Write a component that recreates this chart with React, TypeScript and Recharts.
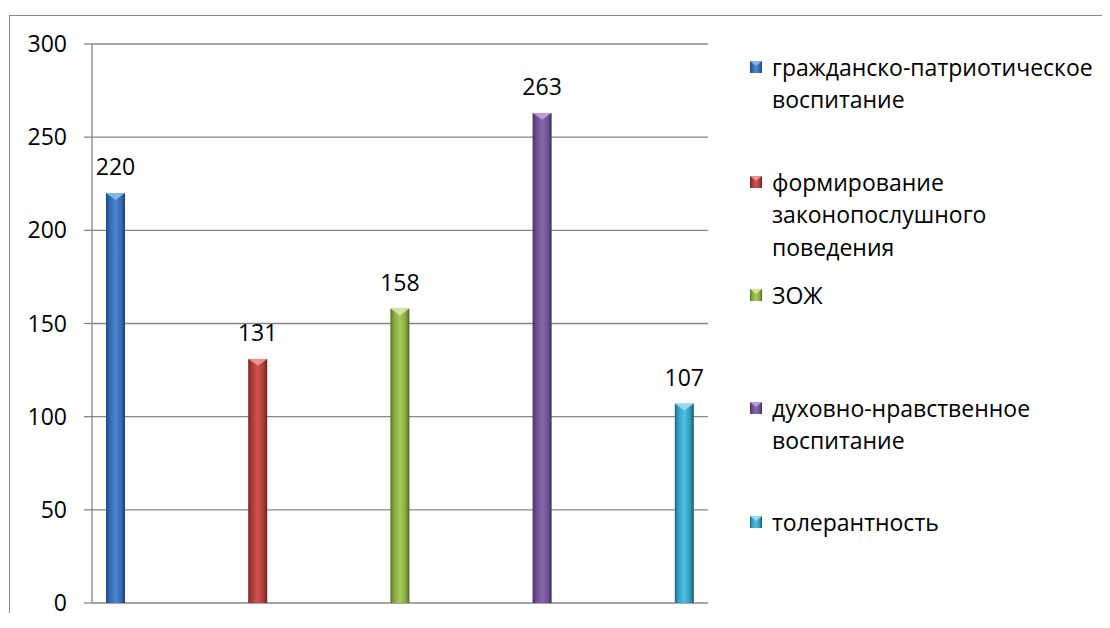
import React from 'react';
import { BarChart, Bar, XAxis, YAxis, CartesianGrid, LabelList, Legend } from 'recharts';

const categories = ['1', '2', '3', '4', '5'];
const seriesNames = [
  'гражданско-патриотическое\nвоспитание',
  'формирование\nзаконопослушного\nповедения',
  'ЗОЖ',
  'духовно-нравственное\nвоспитание',
  'толерантность',
];
const values = [220, 131, 158, 263, 107];
const yTicks = [0, 50, 100, 150, 200, 250, 300];
const boundaryTicks = [0, 1, 2, 3, 4, 5];

const palettes = [
  { id: 'g0', stops: ['#1f4a85', '#3266ad', '#4a87d2', '#3468b0', '#1b3f70'], top: '#8dbcf0' },
  { id: 'g1', stops: ['#7a2422', '#a83a37', '#d3524e', '#aa3b38', '#6a1e1c'], top: '#eb9b98' },
  { id: 'g2', stops: ['#56701f', '#86a63f', '#a8ca5c', '#88a640', '#4a621e'], top: '#d4eaa0' },
  { id: 'g3', stops: ['#432f66', '#6a4e91', '#8466ac', '#6b5092', '#3a2a58'], top: '#bca6dc' },
  { id: 'g4', stops: ['#1a677e', '#31a0c0', '#4fc0e2', '#3097b5', '#15566a'], top: '#a0def2' },
];

const FONT = '"Open Sans", sans-serif';
const FS = 23;

const data = categories.map((c, i) => ({ cat: c, [`s${i}`]: values[i] }));

const GradDefs = ({ prefix }: { prefix: string }) => (
  <defs>
    {palettes.map((p) => (
      <linearGradient key={p.id} id={prefix + p.id} x1="0" y1="0" x2="1" y2="0">
        <stop offset="0%" stopColor={p.stops[0]} />
        <stop offset="18%" stopColor={p.stops[1]} />
        <stop offset="50%" stopColor={p.stops[2]} />
        <stop offset="82%" stopColor={p.stops[3]} />
        <stop offset="100%" stopColor={p.stops[4]} />
      </linearGradient>
    ))}
  </defs>
);

const makeShape = (idx: number) => (props: any) => {
  const { x, y, width, height } = props;
  if (!height || height <= 0 || width == null) return <g />;
  const p = palettes[idx];
  const tri = Math.min(width * 0.36, height);
  return (
    <g>
      <rect x={x} y={y} width={width} height={height} fill={`url(#c${p.id})`} />
      <polygon points={`${x},${y} ${x + width},${y} ${x + width / 2},${y + tri}`} fill={p.top} opacity={0.9} />
    </g>
  );
};

const firstLineCenters = [51, 166, 279, 392, 506];

const LegendContent = (props: any) => {
  const payload = [...(props.payload || [])].sort(
    (a: any, b: any) => seriesNames.indexOf(a.value) - seriesNames.indexOf(b.value)
  );
  return (
    <div style={{ position: 'relative', width: 1100, height: 604, pointerEvents: 'none' }}>
      <svg width={0} height={0} style={{ position: 'absolute' }}>
        <GradDefs prefix="l" />
      </svg>
      {payload.map((entry: any, i: number) => {
        const idx = seriesNames.indexOf(entry.value);
        const cy = firstLineCenters[i];
        const p = palettes[idx];
        const lines = String(entry.value).split('\n');
        return (
          <React.Fragment key={i}>
            <svg width={12} height={12} style={{ position: 'absolute', left: 740, top: cy - 6 }}>
              <rect x={0} y={0} width={12} height={12} fill={`url(#l${p.id})`} />
              <polygon points="0,0 12,0 6,5" fill={p.top} opacity={0.9} />
            </svg>
            <div
              style={{
                position: 'absolute',
                left: 762,
                top: cy - 16.25,
                fontFamily: FONT,
                fontSize: FS,
                lineHeight: '32.5px',
                color: '#000',
                whiteSpace: 'nowrap',
              }}
            >
              {lines.map((l, k) => (
                <div key={k}>{l}</div>
              ))}
            </div>
          </React.Fragment>
        );
      })}
    </div>
  );
};

export default function App() {
  return (
    <div
      style={{
        position: 'relative',
        left: 1,
        top: 7,
        width: 1101,
        height: 605,
        borderLeft: '1px solid #868686',
        borderTop: '1px solid #868686',
        boxSizing: 'border-box',
        background: '#fff',
      }}
    >
      <BarChart
        width={1100}
        height={604}
        data={data}
        margin={{ top: 28, right: 402, left: 0, bottom: 0 }}
        barCategoryGap={14}
        barGap={0}
      >
        <GradDefs prefix="c" />
        <CartesianGrid vertical={false} stroke="#878787" strokeWidth={1.3} />
        <XAxis dataKey="cat" hide />
        <XAxis
          xAxisId="b"
          type="number"
          domain={[0, 5]}
          ticks={boundaryTicks}
          allowDataOverflow
          height={17}
          tickSize={8}
          tickFormatter={() => ''}
          axisLine={{ stroke: '#878787', strokeWidth: 1.3 }}
          tickLine={{ stroke: '#878787', strokeWidth: 1.3 }}
        />
        <YAxis
          domain={[0, 300]}
          ticks={yTicks}
          width={82}
          tickSize={8}
          tickMargin={17}
          axisLine={{ stroke: '#878787', strokeWidth: 1.3 }}
          tickLine={{ stroke: '#878787', strokeWidth: 1.3 }}
          tick={{ fill: '#000', fontFamily: FONT, fontSize: FS }}
        />
        <Legend
          layout="vertical"
          align="center"
          verticalAlign="middle"
          wrapperStyle={{ left: 0, top: 0, width: 1100, height: 604 }}
          content={LegendContent}
        />
        {seriesNames.map((n, i) => (
          <Bar
            key={i}
            dataKey={`s${i}`}
            name={n}
            fill={palettes[i].stops[2]}
            isAnimationActive={false}
            shape={makeShape(i)}
          >
            <LabelList
              dataKey={`s${i}`}
              position="top"
              offset={18}
              fill="#000"
              style={{ fontFamily: FONT, fontSize: FS }}
            />
          </Bar>
        ))}
      </BarChart>
    </div>
  );
}
